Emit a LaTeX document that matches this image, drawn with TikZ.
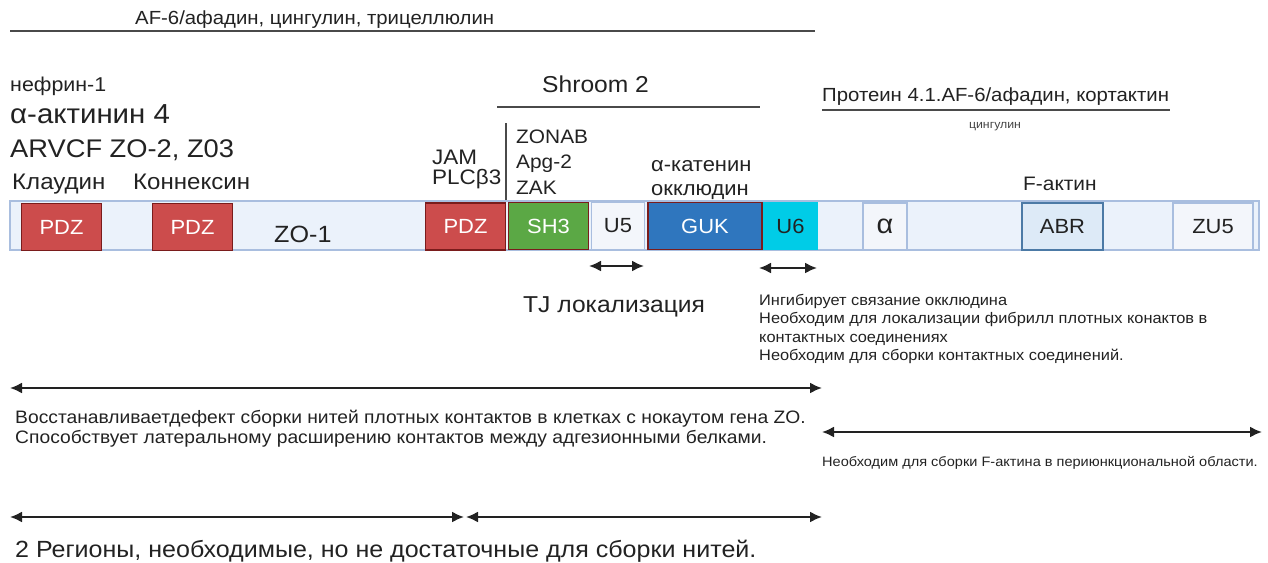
\documentclass[tikz,border=0pt]{standalone}
\usepackage{fontspec}
\setmainfont[FakeStretch=1.07]{Liberation Sans}
\usetikzlibrary{arrows.meta,positioning}

\definecolor{ink}{HTML}{222222}
\definecolor{rulegray}{HTML}{4A4A4A}
\definecolor{barfill}{HTML}{EBF2FB}
\definecolor{barline}{HTML}{A9BEDF}
\definecolor{pale}{HTML}{F3F6FB}
\definecolor{pdzred}{HTML}{CC4C4C}
\definecolor{darkred}{HTML}{7A1C1C}
\definecolor{sh3green}{HTML}{5BA845}
\definecolor{gukblue}{HTML}{2F76BE}
\definecolor{u6cyan}{HTML}{00CCE7}
\definecolor{abrfill}{HTML}{DDEAF7}
\definecolor{abrline}{HTML}{4C7AA6}

\newcommand{\fs}[1]{\fontsize{#1}{#1}\selectfont}

\tikzset{
  lbl/.style={anchor=base west, inner sep=0pt, text=ink},
  zobar/.style={draw=barline, fill=barfill, line width=1.5pt},
  dombox/.style={draw=darkred, line width=1.3pt, text=white, minimum height=47pt, inner sep=0pt, font=\fs{20.5}},
  palebox/.style={draw=barline, fill=pale, line width=1.5pt, text=ink, minimum height=47pt, inner sep=0pt, font=\fs{20.5}},
  spanarrow/.style={{Latex[length=12pt,width=11pt]}-{Latex[length=12pt,width=11pt]}, line width=2pt, draw=ink},
  overline/.style={line width=2pt, draw=rulegray}
}

\begin{document}
\begin{tikzpicture}[x=1pt,y=-1pt]
\useasboundingbox (0,0) rectangle (1268,562);

\node[lbl, font=\fs{19}] (afadin) at (135,24) {AF-6/афадин, цингулин, трицеллюлин};
\draw[overline] (10,31) -- (815,31);

\node[lbl, font=\fs{20}] (nefrin) at (10,91) {нефрин-1};
\node[lbl, font=\fs{27.5}] (actinin) at (10,123) {α-актинин 4};
\node[lbl, font=\fs{25.5}] (arvcf) at (10,157) {ARVCF ZO-2, Z03};
\node[lbl, font=\fs{22.5}] (claudin) at (12,189) {Клаудин};
\node[lbl, font=\fs{22.5}] (connexin) at (133,189) {Коннексин};

\node[lbl, font=\fs{23}] (shroom) at (542,92) {Shroom 2};
\draw[overline] (497,107) -- (760,107);
\draw[overline] (506,123) -- (506,201);

\node[lbl, font=\fs{21}] (jam) at (432,164) {JAM};
\node[lbl, font=\fs{21}] (plc) at (432,184) {PLCβ3};
\node[lbl, font=\fs{19.5}] (zonab) at (516,143) {ZONAB};
\node[lbl, font=\fs{19.5}] (apg) at (516,168) {Apg-2};
\node[lbl, font=\fs{19.5}] (zak) at (516,194) {ZAK};
\node[lbl, font=\fs{20.5}] (catenin) at (651,171) {α-катенин};
\node[lbl, font=\fs{20.5}] (occludin) at (651,195) {окклюдин};

\node[lbl, font=\fs{19}] (protein) at (822,101) {Протеин 4.1.AF-6/афадин, кортактин};
\draw[overline, line width=2.5pt] (822,110) -- (1170,110);
\node[inner sep=0pt, text=ink!85, font=\fs{11.5}] (cingulin) at (995,127) {цингулин};
\node[lbl, font=\fs{19.5}] (factin) at (1023,190) {F-актин};

\node[zobar, minimum width=1249pt, minimum height=49pt] (bar) at (634.5,225.5) {};
\node[dombox, fill=pdzred, minimum width=80pt] (pdza) at (61.5,227) {PDZ};
\node[dombox, fill=pdzred, minimum width=80pt] (pdzb) at (192.5,227) {PDZ};
\node[lbl, font=\fs{23.5}] (zo) at (274,242) {ZO-1};
\node[dombox, fill=pdzred, minimum width=80pt] (pdzc) at (465.5,226.5) {PDZ};
\node[dombox, fill=sh3green, minimum width=80pt] (sh3) at (548.5,226) {SH3};
\node[palebox, minimum width=53pt] (u5) at (618,226) {U5};
\node[dombox, fill=gukblue, minimum width=114pt] (guk) at (705,226) {GUK};
\node[palebox, draw=u6cyan, fill=u6cyan, minimum width=54pt] (u6) at (790.5,226) {U6};
\node[palebox, minimum width=44pt, font=\fs{27}] (alpha) at (885,226.5) {α};
\node[palebox, draw=abrline, fill=abrfill, minimum width=81pt] (abr) at (1062.5,226.5) {ABR};
\node[palebox, minimum width=80pt] (zu5) at (1213,226.5) {ZU5};

\coordinate (tja) at (589,266);
\coordinate (tjb) at (644,266);
\coordinate (u6a) at (759,268);
\coordinate (u6b) at (817,268);
\draw[spanarrow] (tja) -- (tjb);
\draw[spanarrow] (u6a) -- (u6b);

\node[lbl, font=\fs{23}] (tjloc) at (523,312) {TJ локализация};
\node[lbl, font=\fs{15.3}] (inhib) at (759,305) {Ингибирует связание окклюдина};
\node[lbl, font=\fs{15.3}] (needa) at (759,323) {Необходим для локализации фибрилл плотных конактов в};
\node[lbl, font=\fs{15.3}] (needb) at (759,342) {контактных соединениях};
\node[lbl, font=\fs{15.3}] (needc) at (759,360) {Необходим для сборки контактных соединений.};

\coordinate (resta) at (10,388);
\coordinate (restb) at (822,388);
\draw[spanarrow] (resta) -- (restb);
\node[lbl, font=\fs{18}] (restore) at (15,423) {Восстанавливаетдефект сборки нитей плотных контактов в клетках с нокаутом гена ZO.};
\node[lbl, font=\fs{18}] (lateral) at (15,443) {Способствует латеральному расширению контактов между адгезионными белками.};

\coordinate (facta) at (822,432);
\coordinate (factb) at (1262,432);
\draw[spanarrow] (facta) -- (factb);
\node[lbl, font=\fs{13.6}] (factneed) at (822,466) {Необходим для сборки F-актина в периюнкциональной области.};

\coordinate (rega) at (10,517);
\coordinate (regm) at (465,517);
\coordinate (regb) at (822,517);
\draw[spanarrow] (rega) -- ([xshift=-1pt]regm);
\draw[spanarrow] ([xshift=1pt]regm) -- (regb);
\node[lbl, font=\fs{23.4}] (regions) at (15,557) {2 Регионы, необходимые, но не достаточные для сборки нитей.};
\end{tikzpicture}
\end{document}
